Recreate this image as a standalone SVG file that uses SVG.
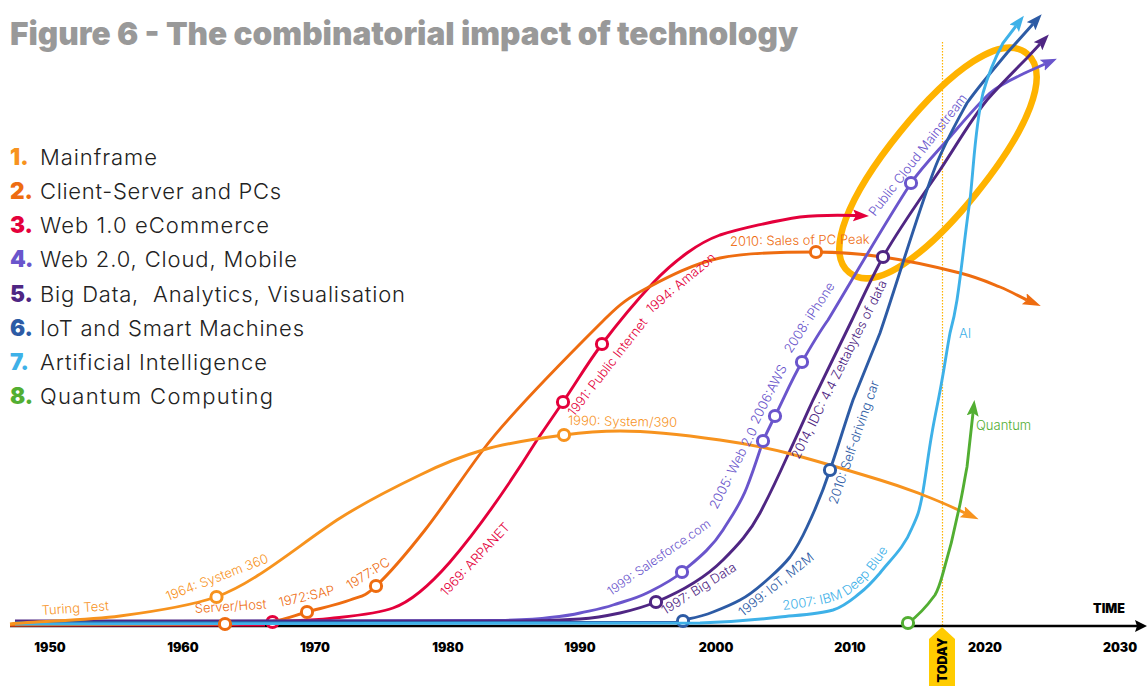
<svg xmlns="http://www.w3.org/2000/svg" width="1148" height="686" viewBox="0 0 1148 686">
<style>
text{font-family:"Inter","Liberation Sans",sans-serif}
.c{fill:none;stroke-width:2.9;stroke-linecap:butt}
.n{fill:#fff;stroke-width:3}
.l{font-size:13px;font-weight:300}
.y{font-size:12.5px;font-weight:900;fill:#000;text-anchor:middle}
.lg{font-size:22px;font-weight:300;fill:#222;white-space:pre}
.num{font-size:22.5px;font-weight:900}
.o1{stroke:#f7931e}.o2{stroke:#ee6c10}.o3{stroke:#e4003b}.o4{stroke:#6a55cc}.o5{stroke:#4f2683}.o6{stroke:#2d5ba5}.o8{stroke:#52ae32}
.f1{fill:#f7931e}.f2{fill:#ee6c10}.f3{fill:#e4003b}.f4{fill:#6a55cc}.f5{fill:#4f2683}.f6{fill:#2d5ba5}.f7{fill:#3eb1e8}.f8{fill:#52ae32}
</style>
<defs>
<marker id="a1" markerUnits="userSpaceOnUse" markerWidth="20" markerHeight="14" refX="3" refY="6" orient="auto"><path d="M0 0L18 6L0 12L3 6Z" fill="#f7931e"/></marker>
<marker id="a2" markerUnits="userSpaceOnUse" markerWidth="20" markerHeight="14" refX="3" refY="6" orient="auto"><path d="M0 0L18 6L0 12L3 6Z" fill="#ee6c10"/></marker>
<marker id="a3" markerUnits="userSpaceOnUse" markerWidth="20" markerHeight="14" refX="3" refY="6" orient="auto"><path d="M0 0L16 6L0 12L3 6Z" fill="#e4003b"/></marker>
<marker id="a4" markerUnits="userSpaceOnUse" markerWidth="20" markerHeight="14" refX="3" refY="6" orient="auto"><path d="M0 0L16 6L0 12L3 6Z" fill="#6a55cc"/></marker>
<marker id="a5" markerUnits="userSpaceOnUse" markerWidth="20" markerHeight="14" refX="3" refY="6" orient="auto"><path d="M0 0L16 6L0 12L3 6Z" fill="#4f2683"/></marker>
<marker id="a6" markerUnits="userSpaceOnUse" markerWidth="20" markerHeight="14" refX="3" refY="6" orient="auto"><path d="M0 0L16 6L0 12L3 6Z" fill="#2d5ba5"/></marker>
<marker id="a7" markerUnits="userSpaceOnUse" markerWidth="20" markerHeight="14" refX="3" refY="6" orient="auto"><path d="M0 0L16 6L0 12L3 6Z" fill="#3eb1e8"/></marker>
<marker id="a8" markerUnits="userSpaceOnUse" markerWidth="20" markerHeight="14" refX="3" refY="6" orient="auto"><path d="M0 0L16 6L0 12L3 6Z" fill="#52ae32"/></marker>
<marker id="ax" markerUnits="userSpaceOnUse" markerWidth="14" markerHeight="14" refX="2" refY="6" orient="auto"><path d="M0 0L12 6L0 12L2 6Z" fill="#000"/></marker>
<path id="deep" d="M783 610C815 606 838 603 852 592C866 581 876 569 888 550"/>
</defs>

<g id="title"><text x="10" y="45" style="font-size:32px;font-weight:900;fill:#999" textLength="788" lengthAdjust="spacingAndGlyphs">Figure 6 - The combinatorial impact of technology</text></g>

<g id="legend">
<g id="legend-1"><text class="num f1" x="10" y="165">1.</text><text class="lg" x="40" y="165" textLength="117">Mainframe</text></g>
<g id="legend-2"><text class="num f2" x="10" y="199">2.</text><text class="lg" x="40" y="199" textLength="241">Client-Server and PCs</text></g>
<g id="legend-3"><text class="num f3" x="10" y="233">3.</text><text class="lg" x="40" y="233" textLength="229">Web 1.0 eCommerce</text></g>
<g id="legend-4"><text class="num f4" x="10" y="267">4.</text><text class="lg" x="40" y="267" textLength="257">Web 2.0, Cloud, Mobile</text></g>
<g id="legend-5"><text class="num f5" x="10" y="301.500">5.</text><text class="lg" x="40" y="301.500" textLength="365">Big Data,  Analytics, Visualisation</text></g>
<g id="legend-6"><text class="num f6" x="10" y="336">6.</text><text class="lg" x="40" y="336" textLength="264">IoT and Smart Machines</text></g>
<g id="legend-7"><text class="num f7" x="10" y="370">7.</text><text class="lg" x="40" y="370" textLength="227">Artificial Intelligence</text></g>
<g id="legend-8"><text class="num f8" x="10" y="404">8.</text><text class="lg" x="40" y="404" textLength="233">Quantum Computing</text></g>
</g>

<g id="today-line"><line x1="942.5" y1="42" x2="942.5" y2="627" stroke="#ffb300" stroke-width="1.2" stroke-dasharray="1.5 1.5"/></g>
<g id="highlight"><path transform="translate(938,163) rotate(-51)" d="M-141 0C-141 -32 -82 -49 0 -49C82 -49 141 -32 141 0C141 32 82 49 0 49C-82 49 -141 32 -141 0Z" fill="none" stroke="#ffb300" stroke-width="6.500"/></g>

<g id="axis">
<line x1="10" y1="626" x2="1137" y2="626" stroke="#000" stroke-width="2.6" marker-end="url(#ax)"/>
<text class="y" x="50" y="652">1950</text><text class="y" x="183" y="652">1960</text><text class="y" x="315" y="652">1970</text><text class="y" x="448" y="652">1980</text><text class="y" x="580" y="652">1990</text><text class="y" x="716" y="652">2000</text><text class="y" x="850" y="652">2010</text><text class="y" x="985" y="652">2020</text><text class="y" x="1120" y="652">2030</text>
<text class="y" x="1109" y="613">TIME</text>
</g>
<g id="today"><path d="M929 639L942 627L955 639V686H929Z" fill="#ffcc00"/><text class="y" transform="translate(947,660) rotate(-90)">TODAY</text></g>

<g id="n-arpanet-pt"><circle class="n o3" cx="272.5" cy="622" r="5.6"/></g>
<g id="n-iot-pt"><circle class="n o6" cx="683" cy="621" r="5.6"/></g>

<g id="connectors">
<path class="c" stroke="#e4003b" d="M10 625L265 625M278 621.5C292 620.5 310 620.8 330 618.5C350 616.2 377 614 393 608C410 602 430 585 450 562C480 527 512 480 537 440C545.7 427.3 554.3 414.8 563 402C576 383 587 363.8 602 344C617 324.2 639 298 653 283C667 268 676 261 687 253C698 245 709 239 720 235C739 229 777.3 220.2 800 217C822 214.500 840 215 856 215.500" marker-end="url(#a3)"/>
<path class="c" stroke="#ee6c10" d="M10 625L225 624C240 623.500 258 623.500 272 621.500C285.700 619.500 294 615.600 307 612C320 608.400 338.500 604.300 350 600C361.500 595.700 363.500 597.700 376 586C388.500 574.300 407.200 552.700 425 530C442.800 507.300 465 474 483 450C513 410 577 347 607 317C620 304 628.200 297.800 647 288C665.800 278.200 692 264 720 258C748 252 789 252 816 252C843 252 859 253.500 883 257C907 260.500 940.500 268 960 273C979.500 278 988.300 282.300 1000 287C1011.700 291.700 1020 297 1027 300" marker-end="url(#a2)"/>
<path class="c" stroke="#6a55cc" d="M15 622L500 620.500C520 620 535 619.500 550 617.500C560 616.500 570 615.500 580 613C591 610.500 602 608.700 613 605C624 601.300 635 599 647 593C659 587 670 582 682 572C696 560 711 549 723 530C733 514 740 505 747 487C753 472 758 456 763 441C767 432 770 426 775 416C784 398 792 379 802 362C810 348 818 334 828 320C855 275 885 223 911 183C923 166 937 152 950 137C963 122 977 105 990 93C1002 83 1015 78 1027 72L1045 64" marker-end="url(#a4)"/>
<path class="c" stroke="#4f2683" d="M15 621L520 621C545 621 565 620 580 619C595 618 606 616 620 613C633 610 644 607 656 602C680 592 703 580 723 560C738 545 750 532 760 513C770 494 778 477 787 457C796 438 804 420 813 400C826 373 839 347 852 320C862 299 872 277 883 257C900 227 921 198 940 170C956 146 970 121 987 100C1000 85 1014 71 1027 58L1040 44" marker-end="url(#a5)"/>
<path class="c" stroke="#2d5ba5" d="M15 622.500L677 622.500M688 619C693 618 703 616 713 612C722 608.500 731 605 740 600C750 595 758 588 767 580C776 572 782 567 790 557C798 546 801 540 807 527C816 508 824 488 830 470C838 447 845 423 853 400C862 378 871 355 880 333C898 280 914 225 933 173C942 148 955 125 967 103C979 86 993 70 1007 53L1033 24" marker-end="url(#a6)"/>
<path class="c" stroke="#3eb1e8" d="M15 624L700 623C730 622 755 620 780 617C800 615 820 614 833 610C845 606 851 600 860 593C868 587 874 580 880 573C891 559 904 548 912 528C918 515 919 512 922 497C926 475 928 455 932 433C935 415 939 398 942 380C945 364 947 349 950 333C953 322 955 313 957 300C962 267 965 233 970 200C974 164 975 127 983 93C988 75 994 60 1003 43L1016 26" marker-end="url(#a7)"/>
<path class="c" stroke="#f7931e" d="M10 624C40 621 86 620.500 120 616C154 611.500 190 606 216 597C255 583 295 548 337 520C365 502 395 487 420 475C444 463 459 457 483 450C507 443 541 438 564 435C582 432.500 600 431 620 431C646 431 692 436 720 440C748 444 760 446 787 453C814 460 857 473 880 480C903 487 907 489 923 495C939 501 950 506 965 513" marker-end="url(#a1)"/>
<path class="c" stroke="#52ae32" d="M908 623C918 616 927 606 935 595C939 588 941 580 943 573C949 553 954 533 958 513C962 497 964 482 967 467L973 413" marker-end="url(#a8)"/>
</g>

<g id="n-turing"><text class="l f1" transform="translate(42,615) rotate(-4)">Turing Test</text></g>
<g id="n-system360"><circle class="n o1" cx="216.500" cy="597" r="5.600"/><text class="l f1" transform="translate(168,601) rotate(-21)">1964: System 360</text></g>
<g id="n-serverhost"><circle class="n o2" cx="225" cy="624" r="5.600"/><text class="l f2" transform="translate(195,613) rotate(-3.500)">Server/Host</text></g>
<g id="n-sap"><circle class="n o2" cx="307" cy="612" r="5.600"/><text class="l f2" transform="translate(280,607) rotate(-13)">1972:SAP</text></g>
<g id="n-pc"><circle class="n o2" cx="376" cy="586" r="5.600"/><text class="l f2" transform="translate(350,590) rotate(-32)">1977:PC</text></g>
<g id="n-arpanet"><text class="l f3" transform="translate(446,597) rotate(-47)">1969: ARPANET</text></g>
<g id="n-publicinternet"><circle class="n o3" cx="563" cy="402" r="5.600"/><text class="l f3" transform="translate(574,417) rotate(-52)">1991: Public Internet</text></g>
<g id="n-amazon"><circle class="n o3" cx="602" cy="344" r="5.600"/><text class="l f3" transform="translate(651,314) rotate(-40)">1994: Amazon</text></g>
<g id="n-system390"><circle class="n o1" cx="564" cy="435" r="5.600"/><text class="l f1" transform="translate(568,425) rotate(1)">1990: System/390</text></g>
<g id="n-pcpeak"><circle class="n o2" cx="816" cy="252" r="5.600"/><text class="l f2" transform="translate(730,246) rotate(-1)">2010: Sales of PC Peak</text></g>
<g id="n-salesforce"><circle class="n o4" cx="682" cy="572" r="5.600"/><text class="l f4" transform="translate(611,596) rotate(-35)" style="font-size:12.300px">1999: Salesforce.com</text></g>
<g id="n-web2"><circle class="n o4" cx="763" cy="441" r="5.600"/><text class="l f4" transform="translate(717,510) rotate(-63)">2005: Web 2.0</text></g>
<g id="n-aws"><circle class="n o4" cx="775" cy="416" r="5.600"/><text class="l f4" transform="translate(758,425) rotate(-63)">2006:AWS</text></g>
<g id="n-iphone"><circle class="n o4" cx="802" cy="362" r="5.600"/><text class="l f4" transform="translate(791,354) rotate(-57)">2008: iPhone</text></g>
<g id="n-publiccloud"><circle class="n o4" cx="911" cy="183" r="5.600"/><text class="l f4" transform="translate(875,217) rotate(-52)">Public Cloud Mainstream</text></g>
<g id="n-bigdata"><circle class="n o5" cx="656" cy="602" r="5.600"/><text class="l f5" transform="translate(665,615) rotate(-32)">1997: Big Data</text></g>
<g id="n-zettabytes"><circle class="n o5" cx="883" cy="257" r="5.600"/><text class="l f5" transform="translate(799,460) rotate(-63.500)">2014, IDC: 4.4 Zettabytes of data</text></g>
<g id="n-m2m"><text class="l f6" transform="translate(743,617) rotate(-39)">1999: IoT, M2M</text></g>
<g id="n-selfdriving"><circle class="n o6" cx="830" cy="470" r="5.600"/><text class="l f6" transform="translate(837,505) rotate(-71)">2010: Self-driving car</text></g>
<g id="n-deepblue"><text class="l f7"><textPath href="#deep">2007: IBM Deep Blue</textPath></text></g>
<g id="n-ai"><text class="l f7" x="959" y="338">AI</text></g>
<g id="n-quantum"><circle class="n o8" cx="908" cy="623" r="5.600"/><text class="l f8" x="976" y="430">Quantum</text></g>
</svg>
